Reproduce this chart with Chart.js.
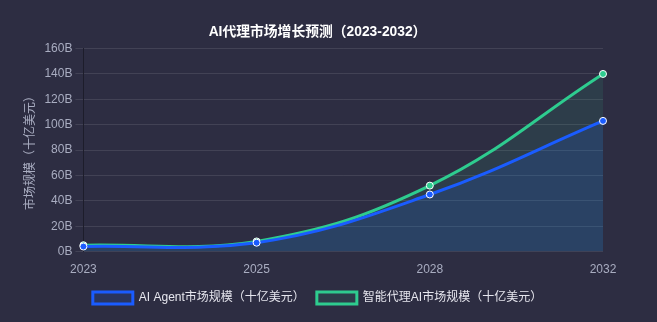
<!DOCTYPE html>
<html>
<head>
<meta charset="utf-8">
<script src="https://cdn.jsdelivr.net/npm/chart.js@4.4.0/dist/chart.umd.min.js"></script>
<style>
  html, body { margin: 0; padding: 0; background: #2d2d42; }
  #wrap { width: 657px; height: 322px; }
</style>
</head>
<body>
<div id="wrap"><canvas id="chart"></canvas></div>
<script>
// ── Data ──
var years      = ['2023', '2025', '2028', '2032'];
var agentVals  = [4, 7, 45, 103];
var smartVals  = [5, 8, 52, 140];
var agentLabel = 'AI Agent市场规模（十亿美元）';
var smartLabel = '智能代理AI市场规模（十亿美元）';

var tickColor = '#a9adc1';
var gridColor = 'rgba(255,255,255,0.1)';

Chart.defaults.font.family = '"Liberation Sans", "Noto Sans CJK SC", sans-serif';

new Chart(document.getElementById('chart'), {
  type: 'line',
  data: {
    labels: years,
    datasets: [
      {
        label: agentLabel,
        data: agentVals,
        borderColor: '#1a5cff',
        backgroundColor: 'rgba(30,100,255,0.15)',
        fill: 'origin',
        tension: 0.4,
        borderWidth: 3,
        pointRadius: 3.5,
        pointBackgroundColor: '#1a5cff',
        pointBorderColor: '#ffffff',
        pointBorderWidth: 1
      },
      {
        label: smartLabel,
        data: smartVals,
        borderColor: '#2ecc8f',
        backgroundColor: 'rgba(46,204,143,0.1)',
        fill: 'origin',
        tension: 0.4,
        borderWidth: 3,
        pointRadius: 3.5,
        pointBackgroundColor: '#2ecc8f',
        pointBorderColor: '#ffffff',
        pointBorderWidth: 1
      }
    ]
  },
  options: {
    responsive: true,
    maintainAspectRatio: false,
    animation: false,
    layout: { padding: { left: 19, right: 41, top: 14, bottom: 8 } },
    plugins: {
      title: {
        display: true,
        text: 'AI代理市场增长预测（2023-2032）',
        color: '#ffffff',
        font: { size: 13.8, weight: 'bold' },
        padding: { top: 10, bottom: 8 }
      },
      legend: {
        position: 'bottom',
        labels: {
          color: '#e6e6ee',
          font: { size: 12 },
          boxWidth: 40,
          boxHeight: 12,
          padding: 12
        }
      }
    },
    scales: {
      x: {
        grid: { display: false },
        border: { display: false },
        ticks: { color: tickColor, font: { size: 12 } }
      },
      y: {
        min: 0,
        max: 160,
        ticks: {
          stepSize: 20,
          color: tickColor,
          font: { size: 12 },
          callback: function(v) { return v + 'B'; }
        },
        grid: { color: gridColor },
        border: { color: 'rgba(0,0,0,0.35)' },
        title: {
          display: true,
          text: '市场规模（十亿美元）',
          color: tickColor,
          font: { size: 12 }
        }
      },
      // empty right-hand gutter
      yRight: {
        position: 'right',
        display: true,
        grid: { display: false },
        border: { display: false },
        ticks: { display: false },
        afterFit: function(s) { s.width = 13; }
      }
    }
  }
});
</script>
</body>
</html>
